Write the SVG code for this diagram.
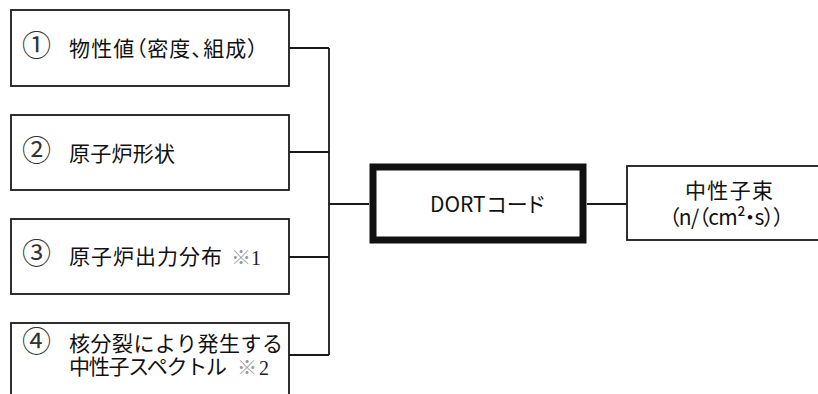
<svg xmlns="http://www.w3.org/2000/svg" width="818" height="394" viewBox="0 0 818 394">
<style>
.box{fill:#fff;stroke:#1a1a1a;stroke-width:1.8}
.main{fill:#fff;stroke:#111;stroke-width:7}
.t{font-family:"Noto Sans CJK JP","Noto Sans",sans-serif;font-size:21px;fill:#111}
.p{font-feature-settings:"palt"}
.num{font-family:"Noto Sans CJK JP","Noto Sans",sans-serif;font-size:29px;fill:#333}
.ref{font-family:"Noto Sans CJK JP",sans-serif;font-size:20px;fill:#999}
.refn{font-family:"Liberation Serif",serif;font-size:20px;fill:#222}
.conn{fill:none;stroke:#1a1a1a;stroke-width:1.8}
</style>
<rect width="818" height="394" fill="#fff"/>
<g id="connectors">
<path class="conn" d="M289,48 H329 M289,152 H329 M289,257 H329 M289,355 H329 M329,48 V355 M329,204 H369 M587,204 H627"/>
</g>
<g id="node1">
<rect class="box" x="11" y="10" width="278" height="76"/>
<text class="num" x="22" y="56">①</text>
<text class="t p" x="69" y="56" textLength="189" lengthAdjust="spacing">物性値（密度、組成）</text>
</g>
<g id="node2">
<rect class="box" x="11" y="115" width="278" height="75"/>
<text class="num" x="22" y="161">②</text>
<text class="t" x="69" y="161" textLength="106" lengthAdjust="spacing">原子炉形状</text>
</g>
<g id="node3">
<rect class="box" x="11" y="219" width="278" height="75"/>
<text class="num" x="22" y="264">③</text>
<text class="t" x="69" y="264" textLength="153" lengthAdjust="spacing">原子炉出力分布</text>
<text class="ref" x="231" y="265">※</text>
<text class="refn" x="251" y="265">1</text>
</g>
<g id="node4">
<rect class="box" x="11" y="323" width="278" height="90"/>
<text class="num" x="22" y="352">④</text>
<text class="t" x="69" y="351" font-size="20" textLength="214" lengthAdjust="spacing">核分裂により発生する</text>
<text class="t" x="69" y="374" font-size="20" textLength="158" lengthAdjust="spacing">中性子スペクトル</text>
<text class="ref" x="237" y="375">※</text>
<text class="refn" x="259" y="375">2</text>
</g>
<g id="dort">
<rect class="main" x="373" y="167" width="210" height="73"/>
<text class="t" x="430" y="212" font-size="18">DORT</text>
<text class="t p" x="487" y="212" font-size="22">コード</text>
</g>
<g id="flux">
<rect class="box" x="627" y="166" width="200" height="74"/>
<text class="t" x="685" y="198" font-size="20" textLength="88" lengthAdjust="spacing">中性子束</text>
<text class="t p" x="669" y="225" font-size="18" textLength="115" lengthAdjust="spacing">（n/（cm²・s））</text>
</g>
</svg>
